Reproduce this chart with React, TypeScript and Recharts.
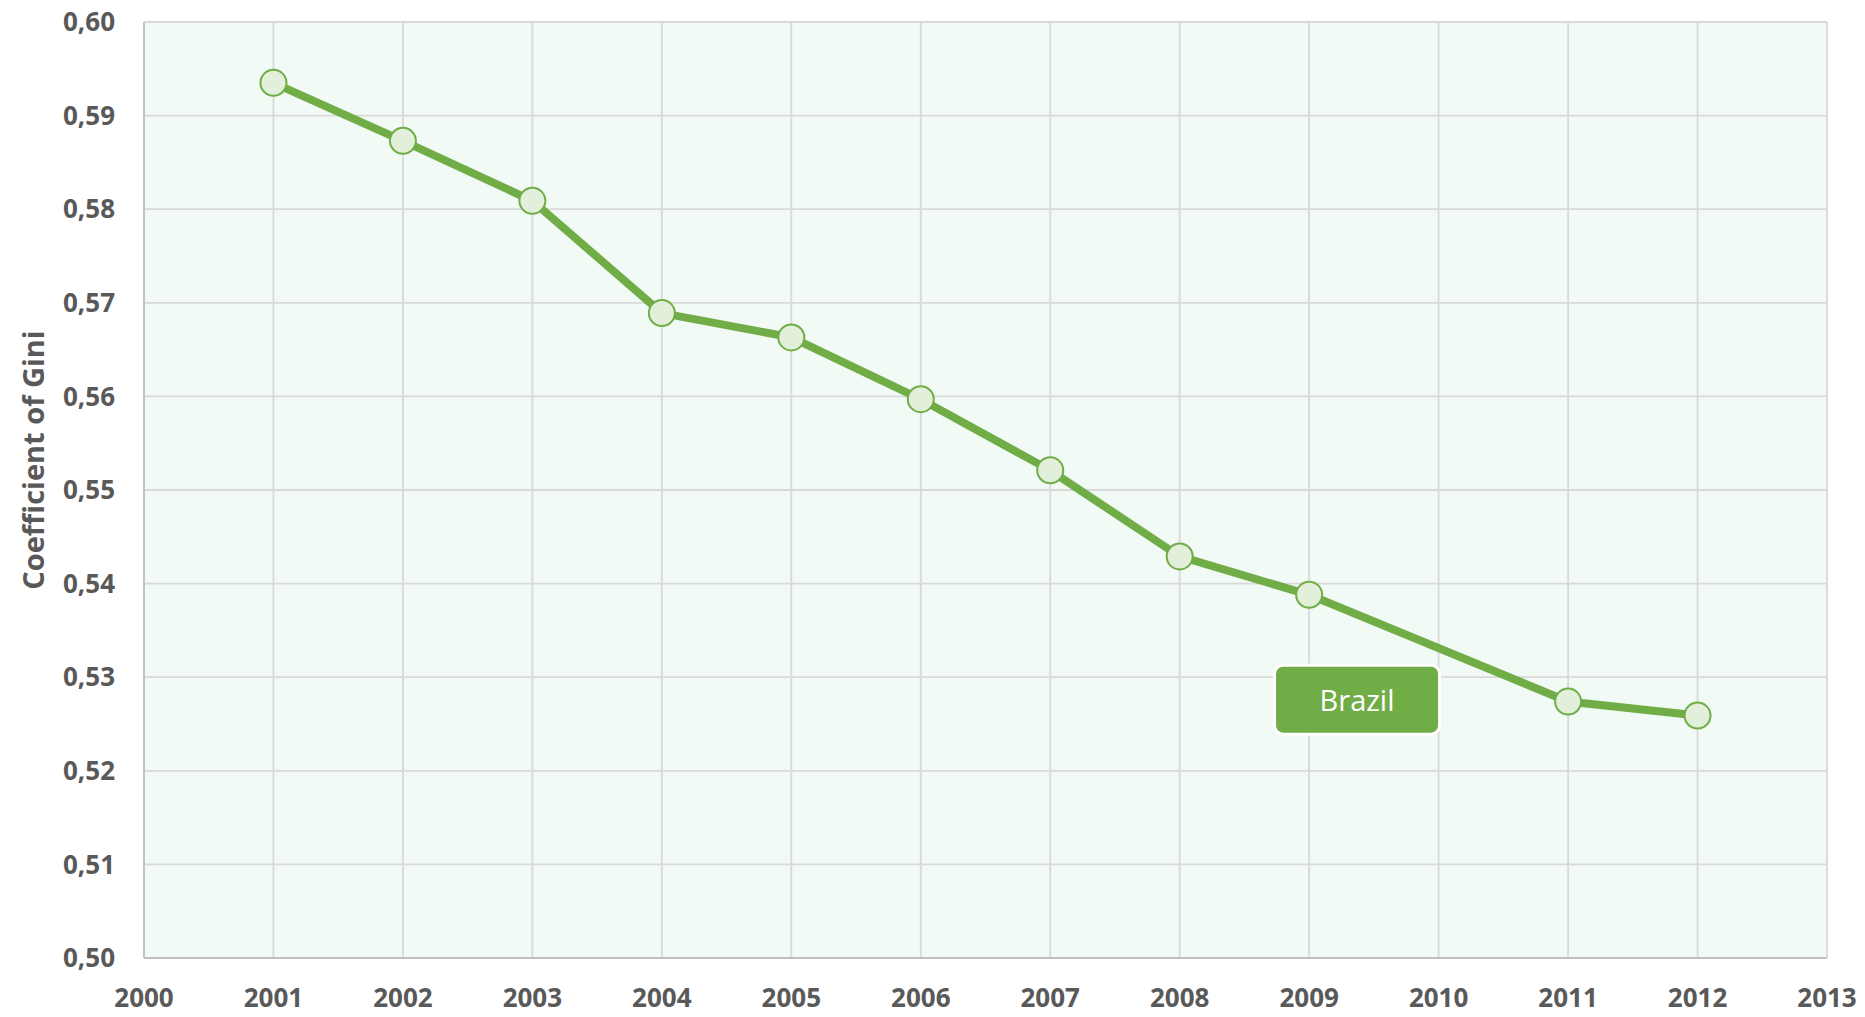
import { LineChart, Line, XAxis, YAxis, CartesianGrid, ReferenceDot } from 'recharts';

const years = [2001, 2002, 2003, 2004, 2005, 2006, 2007, 2008, 2009, 2011, 2012];
const gini = [0.5935, 0.5873, 0.5809, 0.5689, 0.5663, 0.5597, 0.5521, 0.5429, 0.5388, 0.5274, 0.5259];
const xTicks = [2000, 2001, 2002, 2003, 2004, 2005, 2006, 2007, 2008, 2009, 2010, 2011, 2012, 2013];
const yTicks = [0.5, 0.51, 0.52, 0.53, 0.54, 0.55, 0.56, 0.57, 0.58, 0.59, 0.6];
const seriesName = 'Brazil';
const yTitle = 'Coefficient of Gini';
const labelAt = { year: 2009.37, value: 0.5276 };

const data = years.map((year, i) => ({ year, gini: gini[i] }));

const GREEN = '#70AD47';
const TEXT = '#595959';
const FONT = '"Open Sans", sans-serif';

const fmtComma = (v: number) => v.toFixed(2).replace('.', ',');

function SeriesTag(props: any) {
  const { cx, cy } = props;
  const w = 162;
  const h = 66;
  return (
    <g>
      <rect x={cx - w / 2 - 3} y={cy - h / 2 - 3} width={w + 6} height={h + 6} rx={10} fill="#ffffff" />
      <rect x={cx - w / 2} y={cy - h / 2} width={w} height={h} rx={7} fill={GREEN} />
      <text
        x={cx}
        y={cy}
        textAnchor="middle"
        dominantBaseline="central"
        fill="#ffffff"
        fontFamily={FONT}
        fontSize={29}
      >
        {seriesName}
      </text>
    </g>
  );
}

export default function App() {
  return (
    <div style={{ width: 1865, height: 1017, background: '#ffffff' }}>
      <style>{'body{margin:0}'}</style>
      <LineChart width={1865} height={1017} data={data} margin={{ top: 22, right: 38, left: 0, bottom: 0 }}>
        <CartesianGrid fill="#F2FAF5" stroke="#D9D9D9" strokeWidth={1.8} />
        <XAxis
          dataKey="year"
          type="number"
          domain={[2000, 2013]}
          ticks={xTicks}
          interval={0}
          height={59}
          tickLine={false}
          tickMargin={25}
          axisLine={{ stroke: '#BFBFBF', strokeWidth: 1.8 }}
          tick={{ fill: TEXT, fontSize: 26, fontWeight: 700, fontFamily: FONT }}
        />
        <YAxis
          type="number"
          domain={[0.5, 0.6]}
          ticks={yTicks}
          interval={0}
          width={144}
          tickLine={false}
          tickMargin={23}
          tickFormatter={fmtComma}
          axisLine={{ stroke: '#BFBFBF', strokeWidth: 1.8 }}
          tick={{ fill: TEXT, fontSize: 26, fontWeight: 700, fontFamily: FONT }}
          label={{
            content: (p: any) => {
              const vb = p.viewBox || { x: 0, y: 22, width: 144, height: 936 };
              const cx = 32;
              const cy = vb.y + vb.height / 2 - 30;
              return (
                <text
                  x={cx}
                  y={cy}
                  transform={`rotate(-90 ${cx} ${cy})`}
                  textAnchor="middle"
                  dominantBaseline="central"
                  fill={TEXT}
                  fontFamily={FONT}
                  fontWeight={700}
                  fontSize={29}
                >
                  {yTitle}
                </text>
              );
            },
          }}
        />
        <Line
          type="linear"
          dataKey="gini"
          stroke={GREEN}
          strokeWidth={8}
          dot={{ r: 13, fill: '#E2EFDA', stroke: GREEN, strokeWidth: 2 }}
          activeDot={false}
          isAnimationActive={false}
        />
        <ReferenceDot x={labelAt.year} y={labelAt.value} shape={SeriesTag} />
      </LineChart>
    </div>
  );
}
